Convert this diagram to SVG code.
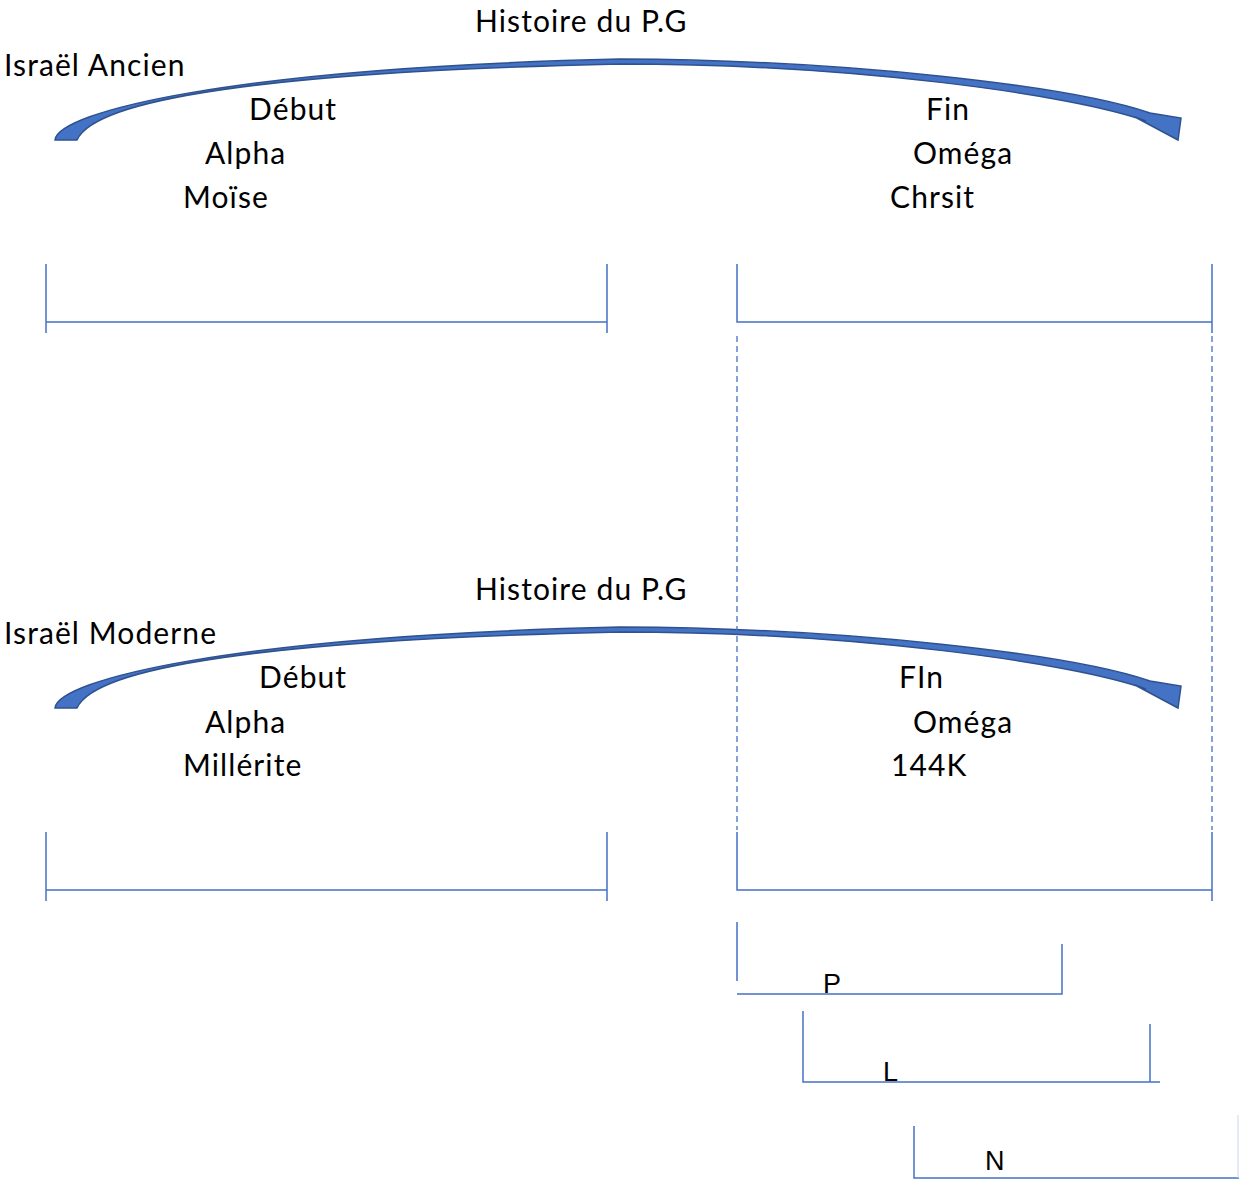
<svg xmlns="http://www.w3.org/2000/svg" width="1239" height="1181" viewBox="0 0 1239 1181">
<defs>
<style>
.t{font-family:Lato,"Noto Sans",sans-serif;font-size:30px;letter-spacing:1.1px;fill:#000}
.s{font-family:"Liberation Sans",Arial,sans-serif;font-size:27px;fill:#000}
.br{stroke:#4472c4;stroke-width:1.5;fill:none}
.ds{stroke:#4472c4;stroke-width:1.3;fill:none;stroke-dasharray:6,4}
.arc{fill:#4472c4;stroke:#2f528f;stroke-width:1.5;stroke-linejoin:miter}
</style>
<path id="arcShape" d="M55,140 C58,112 230,68 620,59 C850,60 1070,86 1150,113 L1181,118 L1178,140 L1135,117 L1146,121 C1070,94 850,64 620,64 C260,72 95,100 77,140 Z"/>
</defs>
<rect width="1239" height="1181" fill="#fff"/>
<g id="arrow-top"><use href="#arcShape" class="arc"/></g>
<g id="arrow-bottom"><use href="#arcShape" class="arc" transform="translate(0,568)"/></g>

<g id="labels-top">
<text class="t" x="475" y="32">Histoire du P.G</text>
<text class="t" x="4" y="76">Israël Ancien</text>
<text class="t" x="249" y="120">Début</text>
<text class="t" x="205" y="164">Alpha</text>
<text class="t" x="183" y="208">Moïse</text>
<text class="t" x="926" y="120">Fin</text>
<text class="t" x="913" y="164">Oméga</text>
<text class="t" x="890" y="208">Chrsit</text>
</g>
<g id="labels-bottom">
<text class="t" x="475" y="600">Histoire du P.G</text>
<text class="t" x="4" y="644">Israël Moderne</text>
<text class="t" x="259" y="688">Début</text>
<text class="t" x="205" y="733">Alpha</text>
<text class="t" x="183" y="776">Millérite</text>
<text class="t" x="899" y="688">FIn</text>
<text class="t" x="913" y="733">Oméga</text>
<text class="t" x="891" y="776">144K</text>
</g>

<g id="connectors">
<path id="br-top-left" class="br" d="M46,264 V333 M46,322 H607 M607,264 V333"/>
<path id="br-top-right" class="br" d="M737,264 V322 H1212 M1212,264 V333"/>
<path id="dash-left" class="ds" d="M737,336 V830"/>
<path id="dash-right" class="ds" d="M1212,336 V830"/>
<path id="br-bot-left" class="br" d="M46,832 V901 M46,890 H607 M607,832 V901"/>
<path id="br-bot-right" class="br" d="M737,832 V890 H1212 M1212,832 V901"/>
<path id="br-p" class="br" d="M737,922 V981 M737,994 H1062 V944"/>
<path id="br-l" class="br" d="M803,1011 V1082 H1160 M1150,1024 V1082"/>
<path id="br-n" class="br" d="M914,1126 V1178 H1239"/>
<path id="br-n-right" d="M1238,1115 V1178" stroke="#c9d6ee" stroke-width="1" fill="none"/>
</g>
<g id="bracket-labels">
<text class="s" x="823" y="993">P</text>
<text class="s" x="883" y="1081">L</text>
<text class="s" x="985" y="1170">N</text>
</g>
</svg>
